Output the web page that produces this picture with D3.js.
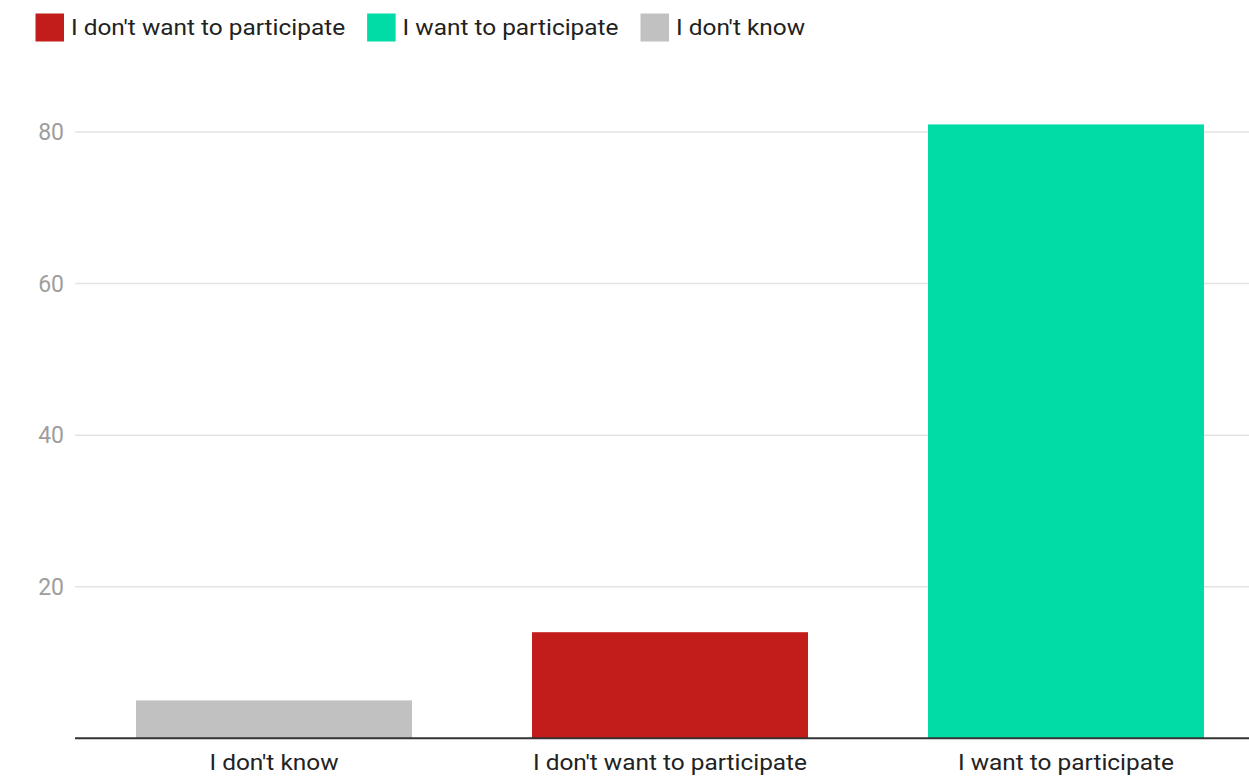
<!DOCTYPE html>
<html><head><meta charset="utf-8">
<script src="https://cdn.jsdelivr.net/npm/d3@7"></script>
<style>body{margin:0;background:#fff;}svg{display:block;font-family:Roboto,sans-serif;}</style>
</head><body>
<script>
const categories = ["I don't know", "I don't want to participate", "I want to participate"];
const values = [5, 14, 81];
const barColors = ["#c1c1c1", "#c21d1b", "#01dca7"];
const legendLabels = ["I don't want to participate", "I want to participate", "I don't know"];
const legendColors = ["#c21d1b", "#01dca7", "#c1c1c1"];
const yTicks = [20, 40, 60, 80];

const W = 1249, H = 776;
const STRETCH = 1.135;
const svg = d3.select("body").append("svg").attr("width", W).attr("height", H);

function stretch(sel) {
  sel.each(function() {
    const L = this.getComputedTextLength();
    d3.select(this).attr("textLength", L * STRETCH).attr("lengthAdjust", "spacingAndGlyphs");
  });
}

const x = d3.scaleBand().domain(categories).range([76, 1264]).paddingInner(0.303).paddingOuter(0.1515);
const y = d3.scaleLinear().domain([0, 80]).range([738.3, 132]);

// gridlines
svg.append("g").selectAll("line").data(yTicks).join("line")
  .attr("x1", 75).attr("x2", W).attr("y1", d => y(d)).attr("y2", d => y(d))
  .attr("stroke", "#e3e3e3").attr("stroke-width", 1.5);

// y labels
svg.append("g").selectAll("text").data(yTicks).join("text")
  .attr("x", 64).attr("y", d => y(d)).attr("dy", "0.36em").attr("text-anchor", "end")
  .attr("fill", "#9e9e9e").attr("font-size", 23).text(d => d);

// bars
svg.append("g").selectAll("rect").data(values).join("rect")
  .attr("x", (d, i) => x(categories[i])).attr("width", x.bandwidth())
  .attr("y", d => y(d)).attr("height", d => y(0) - y(d))
  .attr("fill", (d, i) => barColors[i]);

// baseline
svg.append("line").attr("x1", 75).attr("x2", W).attr("y1", y(0)).attr("y2", y(0))
  .attr("stroke", "#333").attr("stroke-width", 2);

// x labels
svg.append("g").selectAll("text").data(categories).join("text")
  .attr("x", d => x(d) + x.bandwidth() / 2).attr("y", 769.5).attr("text-anchor", "middle")
  .attr("fill", "#222").attr("font-size", 21.5).text(d => d).call(stretch);

// legend
const lg = svg.append("g");
let lx = 35.5;
legendLabels.forEach((lab, i) => {
  lg.append("rect").attr("x", lx).attr("y", 13.5).attr("width", 28.5).attr("height", 28).attr("fill", legendColors[i]);
  const t = lg.append("text").attr("x", lx + 35.5).attr("y", 35)
    .attr("fill", "#222").attr("font-size", 21.5).text(lab);
  const L = t.node().getComputedTextLength() * STRETCH;
  t.attr("textLength", L).attr("lengthAdjust", "spacingAndGlyphs");
  lx += 35.5 + L + 22;
});
</script>
</body></html>
